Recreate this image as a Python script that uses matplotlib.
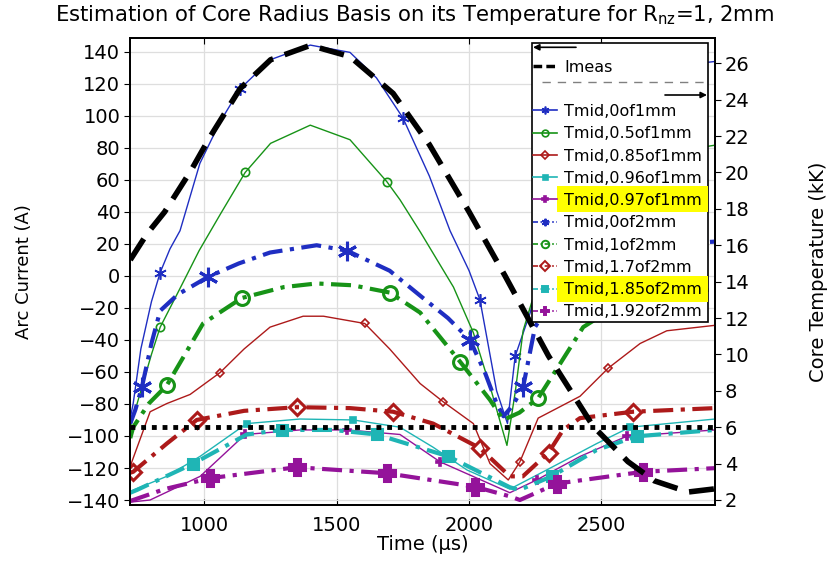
import matplotlib
matplotlib.use("Agg")
import matplotlib.pyplot as plt
from matplotlib.lines import Line2D
from matplotlib.patches import Rectangle, FancyArrowPatch

W, H = 834, 562

# ---- data ----
# measured arc current (left axis, A)
t_imeas = [720, 782, 850, 950, 1022, 1135, 1250, 1400, 1550, 1713, 1850, 2000, 2136, 2300, 2469, 2600, 2700, 2827, 2929]
i_imeas = [10, 26, 40, 66, 87, 117, 135, 144, 137, 114, 82, 40, 0, -50, -94, -116, -128, -135, -133]

T_threshold = 6  # kK, dotted line

# core temperatures (right axis, kK) -- 1 mm nozzle
t_0_1 = [720, 731, 760, 800, 833, 870, 908, 983, 1060, 1135, 1250, 1400, 1550, 1650, 1750, 1850, 1928, 2000, 2041, 2104, 2145, 2174, 2231, 2300, 2450, 2600, 2750, 2929]
T_0_1 = [6.5, 7.3, 10.3, 12.9, 14.5, 15.8, 16.8, 20.5, 22.8, 24.6, 26.2, 27.0, 26.6, 25.2, 23.0, 19.8, 16.8, 14.6, 13.0, 8.0, 6.2, 9.9, 12.3, 16.5, 21.5, 24.5, 25.8, 26.1]
m_0_1 = [833, 1135, 1750, 2041, 2174]

t_05_1 = [720, 760, 800, 833, 900, 980, 1060, 1154, 1250, 1400, 1550, 1689, 1739, 1817, 1941, 2016, 2080, 2143, 2175, 2204, 2260, 2400, 2600, 2800, 2929]
T_05_1 = [6.0, 8.0, 10.0, 11.5, 13.4, 15.7, 17.7, 20.0, 21.6, 22.6, 21.8, 19.5, 18.5, 16.7, 13.7, 11.2, 8.2, 5.0, 8.0, 11.3, 14.0, 17.5, 20.0, 21.2, 21.5]
m_05_1 = [833, 1154, 1689, 2016]

t_085_1 = [720, 726, 795, 858, 946, 1059, 1150, 1248, 1373, 1450, 1606, 1700, 1815, 1902, 2016, 2079, 2148, 2192, 2261, 2419, 2526, 2646, 2747, 2929]
T_085_1 = [3.8, 4.1, 6.85, 7.3, 7.8, 9.0, 10.3, 11.5, 12.1, 12.1, 11.7, 10.3, 8.4, 7.4, 6.2, 4.0, 3.1, 4.1, 6.5, 7.7, 9.25, 10.6, 11.3, 11.6]
m_085_1 = [1059, 1606, 1902, 2192, 2526]

t_096_1 = [720, 732, 858, 984, 1160, 1361, 1562, 1739, 1864, 1992, 2154, 2293, 2482, 2608, 2929]
T_096_1 = [2.4, 2.55, 3.3, 4.4, 6.2, 6.45, 6.4, 6.0, 4.9, 3.65, 2.6, 3.65, 5.1, 6.0, 6.45]
m_096_1 = [1160, 1562, 2608]

t_097_1 = [720, 731, 795, 984, 1154, 1361, 1539, 1739, 1890, 2154, 2255, 2420, 2595, 2929]
T_097_1 = [1.9, 1.9, 2.0, 3.3, 5.6, 5.85, 5.85, 5.6, 4.1, 2.4, 3.1, 4.4, 5.5, 5.85]
m_097_1 = [1154, 1539, 1890, 2255, 2595]

# 2 mm nozzle
t_0_2 = [720, 739, 764, 800, 833, 900, 1015, 1130, 1248, 1424, 1539, 1700, 1826, 1920, 2003, 2060, 2104, 2130, 2165, 2204, 2249, 2350, 2500, 2700, 2929]
T_0_2 = [6.2, 6.95, 8.2, 10.6, 12.4, 13.3, 14.27, 15.0, 15.6, 16.0, 15.7, 14.6, 13.1, 12.0, 10.8, 9.0, 7.3, 6.6, 7.2, 8.2, 11.5, 13.8, 15.3, 16.0, 16.2]
m_0_2 = [764, 1015, 1539, 2003, 2204]

t_1_2 = [720, 731, 790, 858, 995, 1141, 1300, 1424, 1560, 1700, 1815, 1966, 2079, 2129, 2190, 2261, 2340, 2431, 2550, 2750, 2929]
T_1_2 = [5.4, 6.0, 7.3, 8.3, 11.7, 13.1, 13.7, 13.9, 13.8, 13.4, 12.3, 9.6, 7.5, 6.4, 6.8, 7.6, 9.4, 11.5, 12.6, 13.3, 13.6]
m_1_2 = [858, 1141, 1700, 1966, 2261]

t_17_2 = [720, 731, 858, 971, 1150, 1349, 1550, 1713, 1864, 2041, 2154, 2203, 2300, 2355, 2419, 2619, 2929]
T_17_2 = [3.5, 3.55, 5.1, 6.4, 6.9, 7.1, 7.05, 6.85, 6.2, 4.85, 3.3, 3.3, 4.6, 5.85, 6.5, 6.85, 7.05]
m_17_2 = [731, 971, 1349, 1713, 2041, 2300, 2619]

t_185_2 = [720, 745, 958, 1160, 1292, 1486, 1651, 1921, 2154, 2190, 2312, 2482, 2633, 2929]
T_185_2 = [2.4, 2.55, 4.0, 5.6, 5.85, 5.85, 5.6, 4.4, 2.7, 2.55, 3.3, 4.75, 5.5, 5.85]
m_185_2 = [958, 1292, 1651, 1921, 2312, 2633]

t_192_2 = [720, 731, 850, 1022, 1349, 1689, 2022, 2154, 2192, 2331, 2657, 2929]
T_192_2 = [1.95, 2.0, 2.6, 3.2, 3.8, 3.47, 2.73, 2.2, 2.0, 2.9, 3.55, 3.75]
m_192_2 = [1022, 1349, 1689, 2022, 2331, 2657]

labels = ["Tmid,0of1mm", "Tmid,0.5of1mm", "Tmid,0.85of1mm", "Tmid,0.96of1mm", "Tmid,0.97of1mm",
          "Tmid,0of2mm", "Tmid,1of2mm", "Tmid,1.7of2mm", "Tmid,1.85of2mm", "Tmid,1.92of2mm"]
highlighted = ["Tmid,0.97of1mm", "Tmid,1.85of2mm"]

# ---- styles ----
BLUE, GREEN, RED, CYAN, PURPLE = "#1f2ec2", "#179317", "#ad1a1a", "#1fb5b5", "#94139a"
ASTER = (6, 2, 0)
DASHDOT = (0, (4.8, 1.8, 1, 1.8))

thin = [
    (t_0_1, T_0_1, m_0_1, BLUE, ASTER, 9, True),
    (t_05_1, T_05_1, m_05_1, GREEN, "o", 6, False),
    (t_085_1, T_085_1, m_085_1, RED, "D", 4.5, False),
    (t_096_1, T_096_1, m_096_1, CYAN, "s", 4.5, True),
    (t_097_1, T_097_1, m_097_1, PURPLE, "P", 6, True),
]
thick = [
    (t_0_2, T_0_2, m_0_2, BLUE, ASTER, 14, True),
    (t_1_2, T_1_2, m_1_2, GREEN, "o", 10, False),
    (t_17_2, T_17_2, m_17_2, RED, "D", 8, False),
    (t_185_2, T_185_2, m_185_2, CYAN, "s", 7, True),
    (t_192_2, T_192_2, m_192_2, PURPLE, "P", 11, True),
]


def px(x):
    return x / W


def py(y):
    return 1 - y / H


fig = plt.figure(figsize=(W / 100, H / 100), dpi=100)
ax = fig.add_axes([px(130), py(505), 585 / W, 467 / H])
ax2 = ax.twinx()
ax3 = fig.add_axes(ax.get_position(), sharex=ax, sharey=ax, label="imeas")
ax.set_zorder(0)
ax2.set_zorder(1)
ax3.set_zorder(2)
ax3.set_axis_off()
ax3.patch.set_visible(False)

# temperature curves
for t, T, marks, c, mk, ms, filled in thin:
    ax2.plot(t, T, color=c, lw=1.0, marker=mk, ms=ms, markevery=[t.index(m) for m in marks],
             mfc=c if filled else "none", mec=c, mew=1.2)
for t, T, marks, c, mk, ms, filled in thick:
    ax2.plot(t, T, color=c, lw=3.0, ls=DASHDOT, marker=mk, ms=ms, markevery=[t.index(m) for m in marks],
             mfc=c if filled else "none", mec=c, mew=2.2)
ax2.axhline(T_threshold, color="black", lw=3.5, ls=(0, (1, 1.2)), zorder=5)

# measured current on top
ax3.plot(t_imeas, i_imeas, color="black", lw=4, ls=(0, (4.5, 2.2)))

ax.set_xlim(719, 2929)
ax.set_ylim(-143.1, 148.6)
ax2.set_ylim(1.725, 27.39)
ax.set_xticks([1000, 1500, 2000, 2500])
ax.set_yticks(range(-140, 141, 20))
ax2.set_yticks(range(2, 27, 2))
ax.grid(True, color="#dedede", lw=0.9)
ax.tick_params(axis="y", direction="out", length=4, labelsize=14, pad=3)
ax.tick_params(axis="x", direction="in", top=True, length=4, labelsize=14, pad=8)
ax2.tick_params(axis="y", direction="out", length=4, labelsize=14, pad=3)
for a in (ax, ax2):
    for s in a.spines.values():
        s.set_linewidth(1.3)

fig.text(px(415), py(15), r"Estimation of Core Radius Basis on its Temperature for R$_{\mathregular{nz}}$=1, 2mm",
         ha="center", va="center", fontsize=15.2)
fig.text(px(24), py(272), "Arc Current (A)", rotation=90, ha="center", va="center", fontsize=13)
fig.text(px(818), py(272), "Core Temperature (kK)", rotation=90, ha="center", va="center", fontsize=14)
fig.text(px(423), py(545), "Time (µs)", ha="center", va="center", fontsize=14)

# ---- legend box ----
fig.add_artist(Rectangle((px(531.7), py(322)), (708 - 531.7) / W, (322 - 42.7) / H,
                         transform=fig.transFigure, fc="white", ec="black", lw=1.2, zorder=3))
for lab, top in zip(highlighted, [186, 276]):
    fig.add_artist(Rectangle((px(557), py(top + 26)), (708 - 557) / W, 26 / H,
                             transform=fig.transFigure, fc="yellow", ec="none", zorder=3.5))

fig.add_artist(FancyArrowPatch((px(576), py(47.3)), (px(533), py(47.3)), transform=fig.transFigure,
                               arrowstyle="-|>", mutation_scale=9, lw=1.2, color="black",
                               shrinkA=0, shrinkB=0, zorder=5))
fig.add_artist(FancyArrowPatch((px(665), py(95)), (px(707), py(95)), transform=fig.transFigure,
                               arrowstyle="-|>", mutation_scale=9, lw=1.2, color="black",
                               shrinkA=0, shrinkB=0, zorder=5))
fig.add_artist(Line2D([px(541.7), px(707)], [py(82.3), py(82.3)], transform=fig.transFigure,
                      color="gray", lw=1, ls=(0, (6, 5)), zorder=5))

leg1 = fig.legend([Line2D([], [], color="black", lw=2.5, ls=(0, (2.5, 1.2)))], ["Imeas"],
                  loc="upper left", bbox_to_anchor=(px(533), py(60)), frameon=False, fontsize=11.5,
                  handlelength=1.5, handletextpad=0.45, borderpad=0, borderaxespad=0)
leg1.set_zorder(4)

handles = []
for t, T, marks, c, mk, ms, filled in thin:
    handles.append(Line2D([], [], color=c, lw=1.2, marker=mk, ms=min(ms, 7) * 0.8,
                          mfc=c if filled else "none", mec=c, mew=1.2))
for t, T, marks, c, mk, ms, filled in thick:
    handles.append(Line2D([], [], color=c, lw=1.2, ls=(0, (3, 1.5, 1, 1.5)), marker=mk, ms=min(ms, 9) * 0.6,
                          mfc=c if filled else "none", mec=c, mew=1.4))
leg2 = fig.legend(handles, labels, loc="upper left", bbox_to_anchor=(px(533), py(104)), frameon=False,
                  fontsize=11.5, handlelength=1.5, handletextpad=0.45, labelspacing=0.455,
                  borderpad=0, borderaxespad=0)
leg2.set_zorder(4)

fig.savefig("out.png", dpi=100)
